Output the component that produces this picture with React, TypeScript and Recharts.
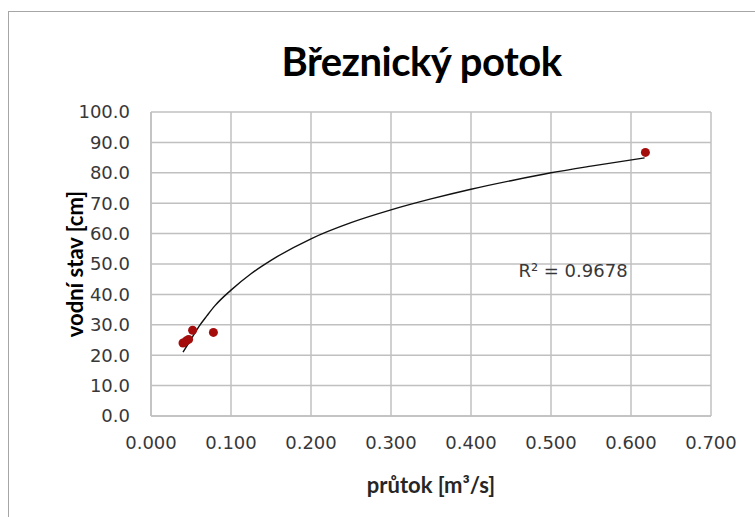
import React from 'react';
import { ComposedChart, Scatter, Line, XAxis, YAxis, CartesianGrid, ReferenceDot } from 'recharts';

// measured points: průtok [m3/s] vs vodní stav [cm]
const flowValues = [0.040, 0.044, 0.047, 0.052, 0.078, 0.618];
const levelValues = [24.0, 24.7, 25.2, 28.2, 27.5, 86.7];

// trendline (log fit)
const trendFlow = [0.040, 0.050, 0.060, 0.070, 0.080, 0.100, 0.125, 0.150, 0.200, 0.250, 0.300, 0.350, 0.400, 0.450, 0.500, 0.550, 0.617];
const trendLevel = [21.0, 25.2, 29.5, 33.0, 36.3, 41.4, 46.8, 51.2, 58.3, 63.6, 67.8, 71.4, 74.6, 77.4, 80.0, 82.2, 84.9];

const xTicks = [0, 0.1, 0.2, 0.3, 0.4, 0.5, 0.6, 0.7];
const yTicks = [0, 10, 20, 30, 40, 50, 60, 70, 80, 90, 100];

const chartTitle = 'Březnický potok';
const xTitle = 'průtok [m³/s]';
const yTitle = 'vodní stav [cm]';
const rSquared = 'R² = 0.9678';

const points = flowValues.map((x, i) => ({ x, y: levelValues[i] }));
const trend = trendFlow.map((x, i) => ({ x, t: trendLevel[i] }));

const tickFont = { fill: '#383838', fontSize: 18, fontFamily: 'DejaVu Sans' };
const axisTitleStyle = { fontFamily: 'Lato', fontWeight: 'bold', fontSize: 22, fill: '#262626' };

const App: React.FC = () => {
  return (
    <div style={{ position: 'absolute', left: 0, top: 0, width: 755, height: 517, background: '#fff', overflow: 'hidden' }}>
      <div style={{ position: 'absolute', left: 8, top: 11, width: 760, height: 520, border: '1.5px solid #a6a6a6' }} />
      <div style={{ position: 'absolute', left: 0, top: 37, width: 843, textAlign: 'center', fontFamily: 'Lato', fontWeight: 'bold', fontSize: 40, letterSpacing: -0.5, color: '#000' }}>
        {chartTitle}
      </div>
      <div style={{ position: 'absolute', left: 0, top: 0 }}>
        <ComposedChart width={755} height={517} margin={{ top: 112, right: 44, left: 81, bottom: 61 }}>
          <CartesianGrid stroke="#c0c0c0" strokeWidth={1.5} horizontalValues={yTicks} verticalValues={xTicks} />
          <XAxis
            type="number"
            dataKey="x"
            domain={[0, 0.7]}
            ticks={xTicks}
            tickFormatter={(v: number) => v.toFixed(3)}
            tick={tickFont}
            tickLine={false}
            axisLine={{ stroke: '#c0c0c0', strokeWidth: 1.5 }}
            tickMargin={14}
            height={40}
            allowDataOverflow
            label={{ value: xTitle, position: 'insideBottom', offset: -37, style: axisTitleStyle }}
          />
          <YAxis
            type="number"
            domain={[0, 100]}
            ticks={yTicks}
            tickFormatter={(v: number) => v.toFixed(1)}
            tick={tickFont}
            tickLine={false}
            axisLine={{ stroke: '#c0c0c0', strokeWidth: 1.5 }}
            tickMargin={15}
            width={70}
            label={{ value: yTitle, angle: -90, position: 'insideLeft', offset: -6, style: { ...axisTitleStyle, textAnchor: 'middle', fill: '#000' } }}
          />
          <Line data={trend} dataKey="t" type="monotone" stroke="#111" strokeWidth={1.4} dot={false} isAnimationActive={false} />
          <Scatter data={points} dataKey="y" fill="#a50d0d" isAnimationActive={false} shape={(p: any) => <circle cx={p.cx} cy={p.cy} r={4.5} fill="#a50d0d" />} />
          <ReferenceDot x={0.5275} y={47.7} r={0} fill="none" stroke="none"
            label={{ value: rSquared, position: 'center', style: { fontFamily: 'DejaVu Sans', fontSize: 18, fill: '#383838' } }} />
        </ComposedChart>
      </div>
    </div>
  );
};

export default App;
